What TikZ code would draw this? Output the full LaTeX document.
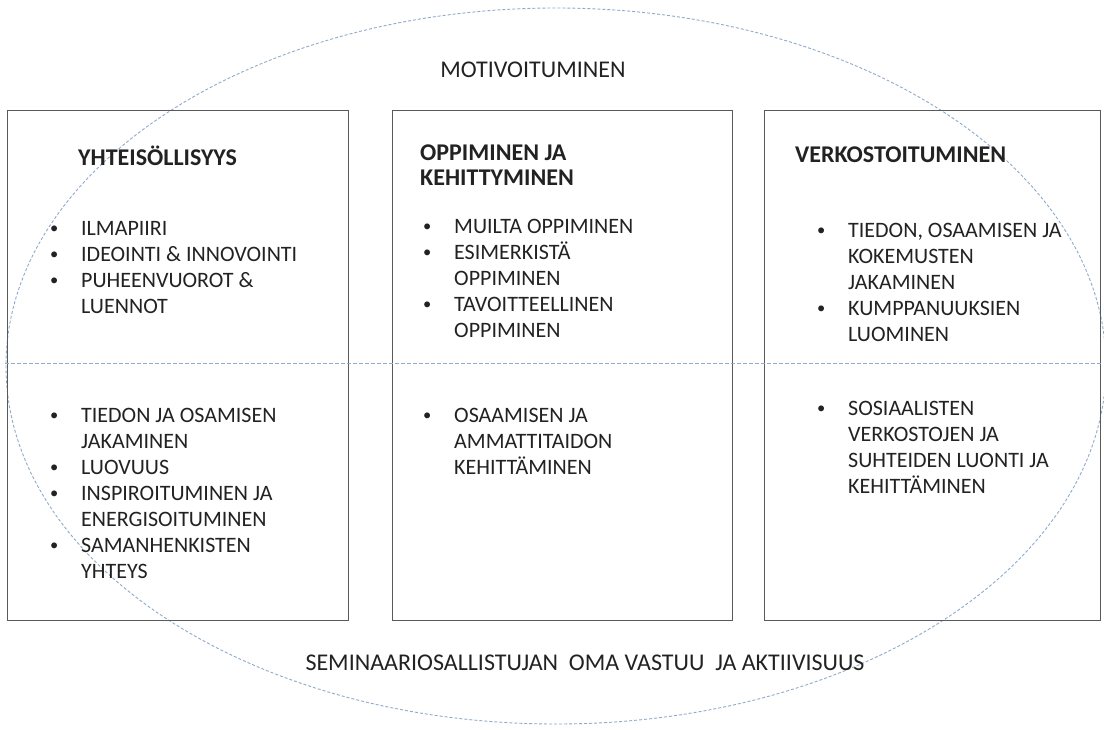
\documentclass[tikz,border=0pt]{standalone}
\usepackage{fontspec}
\setmainfont{Carlito}
\usepackage{xcolor}
\usetikzlibrary{positioning}

\definecolor{rimblue}{HTML}{8FAACB}
\definecolor{frameg}{HTML}{5A5A5A}
\definecolor{inkdark}{HTML}{222222}

\newlength{\bulsep}
\setlength{\bulsep}{31pt}
\newcommand{\smallbul}{\raisebox{1.5pt}{\scalebox{0.75}{\textbullet}}}
\newcommand{\bitem}[1]{\par\noindent\hangindent=\bulsep\hangafter=1\makebox[\bulsep][l]{\smallbul}#1}
\newcommand{\blist}[1]{\parbox[t]{330pt}{\raggedright #1}}

\begin{document}
\begin{tikzpicture}[x=1pt, y=-1pt,
    panel/.style={draw=frameg, line width=1pt, anchor=north west, inner sep=0pt,
        minimum width=#1, minimum height=510pt},
    head/.style={anchor=base west, inner sep=0pt, text=inkdark,
        font=\fontsize{24}{25}\selectfont\bfseries},
    items/.style={anchor=base west, inner sep=0pt, text=inkdark,
        font=\fontsize{22}{26}\selectfont},
    caption/.style={anchor=base, inner sep=0pt, text=inkdark,
        font=\fontsize{24}{28}\selectfont},
    rim/.style={draw=rimblue, line width=0.9pt, dash pattern=on 3pt off 2pt}]
    \useasboundingbox (0,0) rectangle (1104,729);
    \fill[white] (0,0) rectangle (1104,729);

    % Outer ellipse
    \draw[rim] (556,366) ellipse [x radius=550, y radius=358];

    % Three panels
    \node[panel=341pt] (boxYht) at (7,110) {};
    \node[panel=340pt] (boxOpp) at (392,110) {};
    \node[panel=336pt] (boxVer) at (764,110) {};

    % Dashed divider
    \coordinate (divL) at (5,363);
    \coordinate (divR) at (1101,363);
    \draw[rim, dash pattern=on 4pt off 2pt] (divL) -- (divR);

    % Captions
    \node[caption] (motiv) at (533,77) {MOTIVOITUMINEN};
    \node[caption] (vastuu) at (585,670) {SEMINAARIOSALLISTUJAN\ \ OMA VASTUU\ \ JA AKTIIVISUUS};

    % Headings
    \node[head] (hYht) at (78,165) {YHTEISÖLLISYYS};
    \node[head] (hOpp) at (420,160) {\parbox[t]{300pt}{OPPIMINEN JA\\KEHITTYMINEN}};
    \node[head] (hVer) at (795,162) {VERKOSTOITUMINEN};

    % Upper lists
    \node[items] (yhtUp) at (50,235) {\blist{%
        \bitem{ILMAPIIRI}
        \bitem{IDEOINTI \& INNOVOINTI}
        \bitem{PUHEENVUOROT \&\newline LUENNOT}}};
    \node[items] (oppUp) at (423,233) {\blist{%
        \bitem{MUILTA OPPIMINEN}
        \bitem{ESIMERKISTÄ\newline OPPIMINEN}
        \bitem{TAVOITTEELLINEN\newline OPPIMINEN}}};
    \node[items] (verUp) at (817,237) {\blist{%
        \bitem{TIEDON, OSAAMISEN JA\newline KOKEMUSTEN\newline JAKAMINEN}
        \bitem{KUMPPANUUKSIEN\newline LUOMINEN}}};

    % Lower lists
    \node[items] (yhtLow) at (50,422) {\blist{%
        \bitem{TIEDON JA OSAMISEN\newline JAKAMINEN}
        \bitem{LUOVUUS}
        \bitem{INSPIROITUMINEN JA\newline ENERGISOITUMINEN}
        \bitem{SAMANHENKISTEN\newline YHTEYS}}};
    \node[items] (oppLow) at (423,422) {\blist{%
        \bitem{OSAAMISEN JA\newline AMMATTITAIDON\newline KEHITTÄMINEN}}};
    \node[items] (verLow) at (817,415) {\blist{%
        \bitem{SOSIAALISTEN\newline VERKOSTOJEN JA\newline SUHTEIDEN LUONTI JA\newline KEHITTÄMINEN}}};
\end{tikzpicture}
\end{document}
